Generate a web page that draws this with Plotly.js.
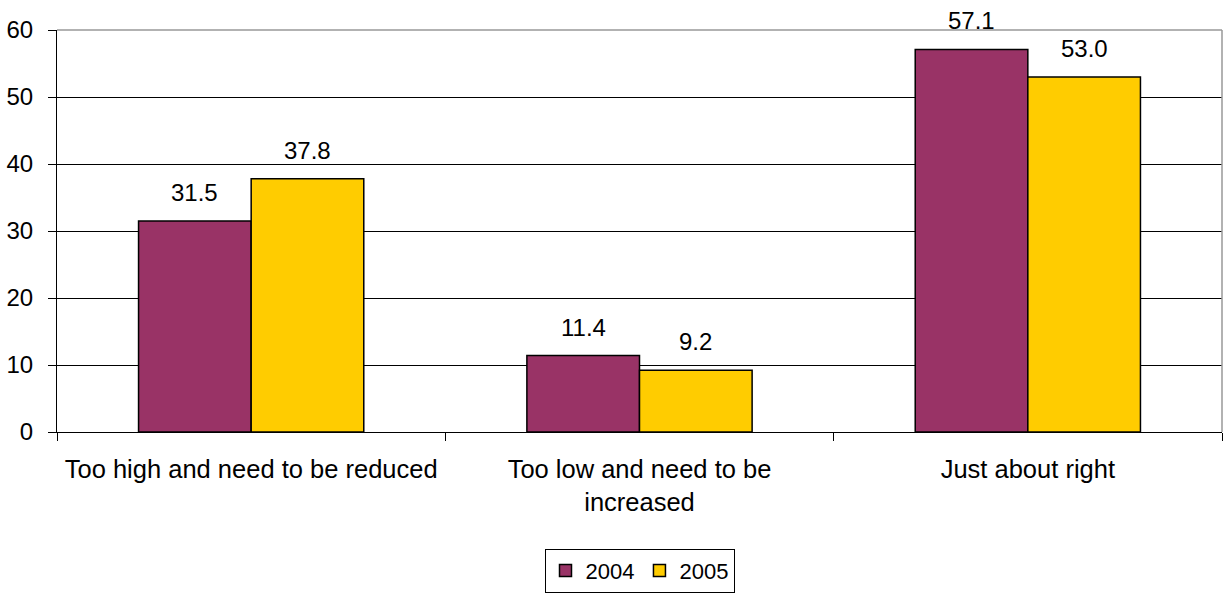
<!DOCTYPE html>
<html>
<head>
<meta charset="utf-8">
<script src="https://cdn.plot.ly/plotly-3.0.1.min.js"></script>
<style>html,body{margin:0;padding:0;background:#fff;}#chart{width:1225px;height:596px;}</style>
</head>
<body>
<div id="chart"></div>
<script>
var categories = ["Too high and need to be reduced", "Too low and need to be<br>increased", "Just about right"];
var values2004 = [31.5, 11.4, 57.1];
var values2005 = [37.8, 9.2, 53.0];
var yTicks = [0, 10, 20, 30, 40, 50, 60];

var FAM = "Liberation Sans, Arial, sans-serif";
var numFont = {family: FAM, size: 24, color: "#000"};
var catFont = {family: FAM, size: 25.5, color: "#000"};
var legFont = {family: FAM, size: 22, color: "#000"};

var BARGAP = 0.42;
var halfBar = (1 - BARGAP) / 4;

function series(name, vals, color) {
  return {
    type: "bar", name: name, x: categories, y: vals,
    marker: {color: color, line: {color: "#000", width: 1.5}},
    hoverinfo: "none"
  };
}

var data = [series("2004", values2004, "#993366"), series("2005", values2005, "#FFCC00")];

var annotations = [];
[[values2004, -halfBar], [values2005, halfBar]].forEach(function (p) {
  p[0].forEach(function (v, i) {
    annotations.push({
      x: i + p[1], y: v, xref: "x", yref: "y",
      text: v.toFixed(1), showarrow: false,
      yanchor: "bottom", xanchor: "center", yshift: 13,
      font: numFont
    });
  });
});

var layout = {
  width: 1225, height: 596,
  margin: {l: 57, r: 3, t: 30, b: 162},
  paper_bgcolor: "#fff", plot_bgcolor: "#fff",
  font: numFont,
  barmode: "group", bargap: BARGAP, bargroupgap: 0,
  showlegend: true,
  legend: {orientation: "h", x: 0.5, xanchor: "center", y: -0.29, yanchor: "top",
           bordercolor: "#000", borderwidth: 1, font: legFont, itemclick: false},
  xaxis: {
    type: "category", tickson: "boundaries", ticks: "outside", ticklen: 8, tickcolor: "#000",
    showline: true, linecolor: "#000", linewidth: 1, showgrid: false,
    tickfont: catFont, automargin: false, range: [-0.5, 2.5], ticklabelstandoff: 14
  },
  yaxis: {
    range: [0, 60], tickvals: yTicks, ticks: "outside", ticklen: 8, tickcolor: "#000",
    showline: true, linecolor: "#000", linewidth: 1,
    showgrid: true, gridcolor: "#000", gridwidth: 1, zeroline: false,
    tickfont: numFont, automargin: false, ticklabelstandoff: 10
  },
  annotations: annotations,
  shapes: [
    {type: "line", xref: "paper", yref: "paper", x0: 0, x1: 1, y0: 1, y1: 1, line: {color: "#999", width: 1.5}},
    {type: "line", xref: "paper", yref: "paper", x0: 1, x1: 1, y0: 0, y1: 1, line: {color: "#999", width: 1.5}}
  ]
};

Plotly.newPlot("chart", data, layout, {staticPlot: true});
</script>
</body>
</html>
